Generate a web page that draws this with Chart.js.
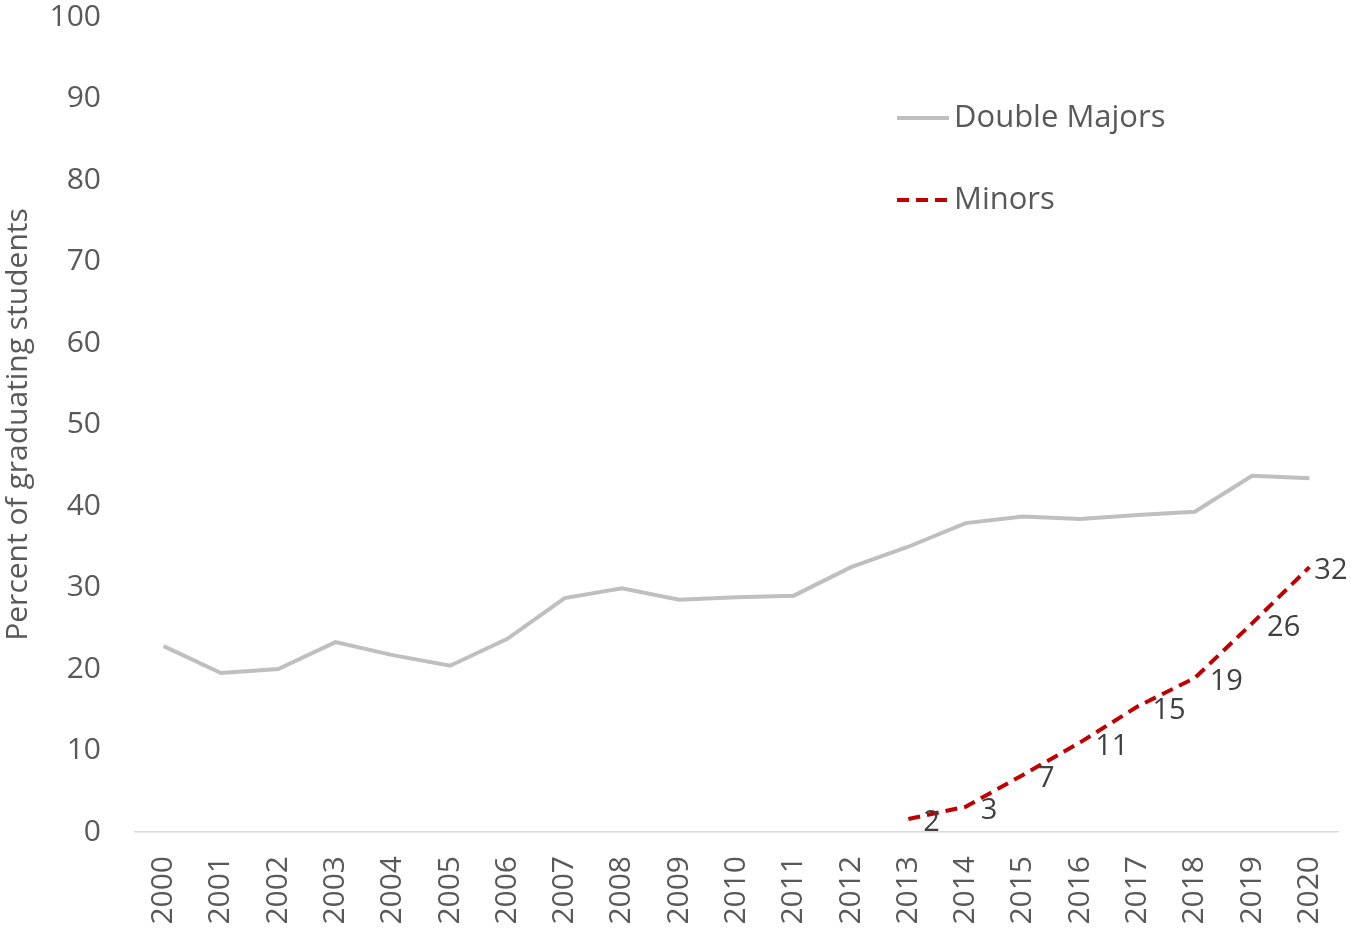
<!DOCTYPE html>
<html>
<head>
<meta charset="utf-8">
<script src="https://cdn.jsdelivr.net/npm/chart.js@4.4.1/dist/chart.umd.min.js"></script>
<style>
  html, body { margin: 0; padding: 0; background: #ffffff; }
  #wrap { width: 1352px; height: 930px; position: relative; }
</style>
</head>
<body>
<div id="wrap"><canvas id="c" width="1352" height="930"></canvas></div>
<script>
const years = ['2000','2001','2002','2003','2004','2005','2006','2007','2008','2009','2010','2011','2012','2013','2014','2015','2016','2017','2018','2019','2020'];
const doubleMajors = [22.8, 19.5, 20.0, 23.3, 21.7, 20.4, 23.7, 28.7, 29.9, 28.5, 28.8, 29.0, 32.5, 35.0, 37.9, 38.7, 38.4, 38.9, 39.3, 43.7, 43.4];
const minors = [null, null, null, null, null, null, null, null, null, null, null, null, null, 1.6, 3.1, 7.0, 11.0, 15.4, 18.9, 25.6, 32.5];
const minorLabels = [null, null, null, null, null, null, null, null, null, null, null, null, null, '2', '3', '7', '11', '15', '19', '26', '32'];
const yTicks = [0, 10, 20, 30, 40, 50, 60, 70, 80, 90, 100];

const FONT = "'Open Sans', 'Noto Sans', sans-serif";
const TXT = '#595959';

const legendPlugin = {
  id: 'customLegend',
  afterDraw(chart) {
    const ctx = chart.ctx;
    const items = [
      { ds: chart.data.datasets[0], y: 118 },
      { ds: chart.data.datasets[1], y: 200 }
    ];
    ctx.save();
    items.forEach(it => {
      ctx.beginPath();
      ctx.strokeStyle = it.ds.borderColor;
      ctx.lineWidth = it.ds.borderWidth;
      ctx.setLineDash(it.ds.borderDash || []);
      ctx.moveTo(897, it.y);
      ctx.lineTo(949, it.y);
      ctx.stroke();
      ctx.setLineDash([]);
      ctx.fillStyle = TXT;
      ctx.font = '31px ' + FONT;
      ctx.textAlign = 'left';
      ctx.textBaseline = 'middle';
      ctx.fillText(it.ds.label, 954, it.y);
    });
    ctx.restore();
  }
};

const labelPlugin = {
  id: 'pointLabels',
  afterDatasetsDraw(chart) {
    const ctx = chart.ctx;
    const meta = chart.getDatasetMeta(1);
    ctx.save();
    ctx.fillStyle = '#404040';
    ctx.font = '29px ' + FONT;
    ctx.textAlign = 'left';
    ctx.textBaseline = 'middle';
    meta.data.forEach((pt, i) => {
      const lbl = minorLabels[i];
      if (lbl === null || minors[i] === null) return;
      const dx = (i === minors.length - 1) ? 5 : 15;
      ctx.fillText(lbl, pt.x + dx, pt.y + 4);
    });
    ctx.restore();
  }
};

new Chart(document.getElementById('c'), {
  type: 'line',
  data: {
    labels: years,
    datasets: [
      {
        label: 'Double Majors',
        data: doubleMajors,
        borderColor: '#bfbfbf',
        borderWidth: 4,
        pointRadius: 0,
        tension: 0,
        fill: false
      },
      {
        label: 'Minors',
        data: minors,
        borderColor: '#c00000',
        borderWidth: 4,
        borderDash: [12, 7],
        pointRadius: 0,
        tension: 0,
        fill: false,
        spanGaps: false
      }
    ]
  },
  options: {
    responsive: false,
    animation: false,
    layout: { padding: { top: 17, right: 14, left: 0, bottom: 0 } },
    plugins: {
      legend: { display: false },
      tooltip: { enabled: false }
    },
    scales: {
      x: {
        offset: true,
        grid: { display: false, drawTicks: false },
        border: { display: true, color: '#d9d9d9', width: 1.5 },
        ticks: {
          color: TXT,
          font: { family: FONT, size: 30 },
          maxRotation: 90,
          minRotation: 90,
          padding: 24,
          autoSkip: false
        },
        afterFit(scale) { scale.height = 98; scale.paddingLeft = 0; scale.paddingRight = 0; }
      },
      y: {
        min: 0,
        max: 100,
        grid: { display: false, drawTicks: false },
        border: { display: false },
        afterBuildTicks(scale) { scale.ticks = yTicks.map(v => ({ value: v })); },
        ticks: {
          color: TXT,
          font: { family: FONT, size: 30 },
          padding: 34
        },
        title: {
          display: true,
          text: 'Percent of graduating students',
          color: TXT,
          font: { family: FONT, size: 30 },
          padding: { top: 0, bottom: 0 }
        },
        afterFit(scale) { scale.width = 135; scale.paddingTop = 0; scale.paddingBottom = 0; }
      }
    }
  },
  plugins: [legendPlugin, labelPlugin]
});
</script>
</body>
</html>
